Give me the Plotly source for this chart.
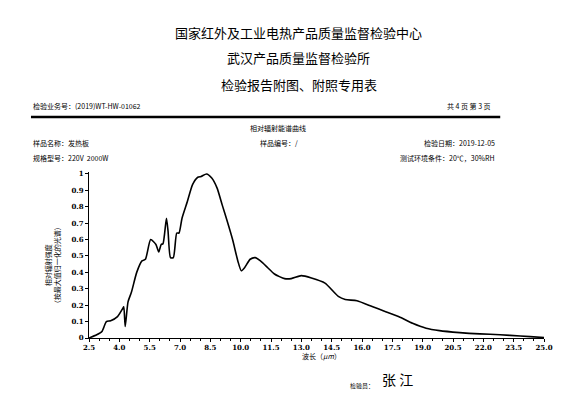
import plotly.graph_objects as go

wavelength = [2.5, 2.88, 3.14, 3.36, 3.57, 3.91, 4.17, 4.22, 4.29, 4.43, 4.6, 4.86, 5.12, 5.29, 5.55, 5.81,
              5.95, 6.07, 6.16, 6.33, 6.41, 6.53, 6.67, 6.84, 6.95, 7.1, 7.36, 7.62, 7.88, 8.05, 8.31, 8.57,
              8.83, 9.09, 9.34, 9.6, 9.86, 10.03, 10.2, 10.47, 10.72, 10.98, 11.33, 11.67, 12.17, 12.5, 13.0,
              13.5, 14.17, 14.83, 15.17, 15.75, 16.5, 17.17, 17.83, 18.5, 19.17, 19.83, 20.83, 21.83, 22.83,
              23.83, 24.83, 25.0]
intensity = [0.0, 0.02, 0.04, 0.1, 0.105, 0.13, 0.18, 0.19, 0.07, 0.22, 0.28, 0.4, 0.47, 0.48, 0.6, 0.57,
             0.525, 0.57, 0.575, 0.73, 0.65, 0.49, 0.49, 0.64, 0.64, 0.73, 0.83, 0.935, 0.98, 0.985, 1.0, 0.975,
             0.915, 0.81, 0.71, 0.6, 0.47, 0.41, 0.43, 0.48, 0.49, 0.47, 0.43, 0.39, 0.362, 0.362, 0.38,
             0.366, 0.335, 0.254, 0.235, 0.227, 0.192, 0.16, 0.13, 0.09, 0.06, 0.045, 0.033, 0.025, 0.02,
             0.012, 0.004, 0.002]
x_ticks = [2.5, 4.0, 5.5, 7.0, 8.5, 10.0, 11.5, 13.0, 14.5, 16.0, 17.5, 19.0, 20.5, 22.0, 23.5, 25.0]
y_ticks = [0, 0.1, 0.2, 0.3, 0.4, 0.5, 0.6, 0.7, 0.8, 0.9, 1]

W, H = 576, 394
fig = go.Figure(go.Scatter(x=wavelength, y=intensity, mode="lines",
                           line=dict(color="black", width=1.6, shape="spline", smoothing=0.6)))

serif = "DejaVu Serif"
sans = "Noto Sans CJK SC"
fig.update_layout(
    width=W, height=H, paper_bgcolor="white", plot_bgcolor="white", showlegend=False,
    margin=dict(l=81, r=40, t=164, b=64),
    xaxis=dict(range=[2.5, 25.0], tickvals=x_ticks, ticktext=[f"{v:.1f}" for v in x_ticks],
               showgrid=False, zeroline=False, showline=True, linecolor="black", linewidth=1,
               ticks="outside", ticklen=3, tickcolor="black",
               minor=dict(dtick=0.5, tick0=2.5, ticks="outside", ticklen=2, tickcolor="black"),
               tickfont=dict(family=serif, size=7, color="black", weight="bold")),
    yaxis=dict(range=[0, 1.012], tickvals=y_ticks, ticktext=[str(v) for v in y_ticks],
               showgrid=False, zeroline=False, showline=True, linecolor="black", linewidth=1,
               ticks="outside", ticklen=3, tickcolor="black",
               tickfont=dict(family=serif, size=7, color="black", weight="bold")),
)

def ptxt(x, y, s, size=8, anchor="left", angle=0):
    fig.add_annotation(x=(x - 89) / 447, y=(338 - y) / 166, xref="paper", yref="paper",
                       text=s, showarrow=False, xanchor=anchor, yanchor="middle", textangle=angle,
                       font=dict(family=sans, size=size, color="black"))

ptxt(295, 32, "国家红外及工业电热产品质量监督检验中心", 13, "center")
ptxt(295, 58, "武汉产品质量监督检验所", 13, "center")
ptxt(295, 85, "检验报告附图、附照专用表", 13, "center")
ptxt(32, 106, "检验业务号：(2019)WT-HW-01062", 7)
ptxt(486, 106, "共 4 页 第 3 页", 7, "right")
ptxt(275, 128, "相对辐射能谱曲线", 7, "center")
ptxt(32, 143, "样品名称：发热板", 7)
ptxt(32, 158, "规格型号：220V  2000W", 7)
ptxt(255, 143, "样品编号：/", 7)
ptxt(490, 143, "检验日期：2019-12-05", 7, "right")
ptxt(490, 158, "测试环境条件：20℃，30%RH", 7, "right")
ptxt(53, 265, "相对辐射强度<br>（按最大值归一化的光谱）", 7, "center", -90)
ptxt(296, 356, "波长（<i>μm</i>）", 7)
ptxt(343, 385, "检验员：", 6)
ptxt(375, 379, "张 江", 14)

fig.add_shape(type="line", xref="paper", yref="paper",
              x0=(32 - 89) / 447, x1=(493 - 89) / 447, y0=(338 - 117) / 166, y1=(338 - 117) / 166,
              line=dict(color="black", width=2.5))

fig.write_html("out.html")
